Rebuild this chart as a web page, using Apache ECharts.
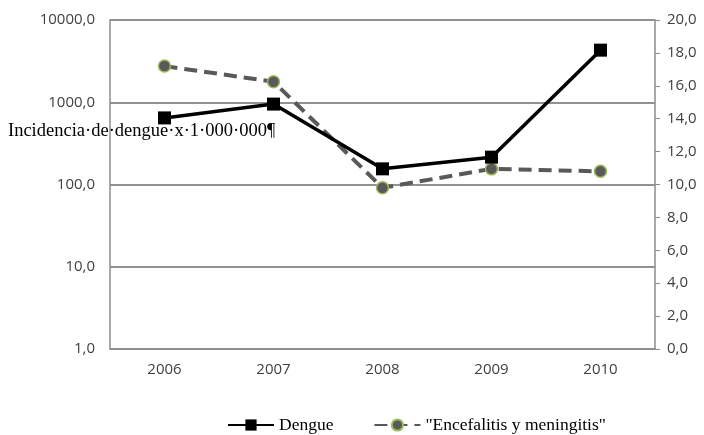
<!DOCTYPE html>
<html>
<head>
<meta charset="utf-8">
<script src="https://cdn.jsdelivr.net/npm/echarts@6/dist/echarts.min.js"></script>
<style>html,body{margin:0;padding:0;background:#fff}#c{width:704px;height:435px}</style>
</head>
<body>
<div id="c"></div>
<script>
var years = ['2006', '2007', '2008', '2009', '2010'];
var dengue = [645, 950, 155, 215, 4300];
var encefalitis = [17.2, 16.25, 9.8, 10.95, 10.8];
var overlayText = 'Incidencia·de·dengue·x·1·000·000¶';

var fmt = function (v) { return Number(v).toFixed(1).replace('.', ','); };
var chart = echarts.init(document.getElementById('c'));
chart.setOption({
  animation: false,
  backgroundColor: '#ffffff',
  grid: { left: 110, right: 49, top: 20, bottom: 86 },
  xAxis: {
    type: 'category',
    data: years,
    boundaryGap: true,
    axisLine: { lineStyle: { color: '#8c8c8c', width: 1.5 } },
    axisTick: { show: false },
    axisLabel: { color: '#404040', fontSize: 15, fontFamily: 'Open Sans', margin: 13 }
  },
  yAxis: [{
    type: 'log',
    logBase: 10,
    min: 1,
    max: 10000,
    axisLine: { show: true, lineStyle: { color: '#8c8c8c', width: 1.5 } },
    axisTick: { show: false },
    splitLine: { show: true, lineStyle: { color: '#6e6e6e', width: 1.5 } },
    minorTick: { show: false },
    axisLabel: { color: '#404040', fontSize: 15, fontFamily: 'Open Sans', margin: 15, formatter: fmt }
  }, {
    type: 'value',
    min: 0,
    max: 20,
    interval: 2,
    position: 'right',
    axisLine: { show: true, lineStyle: { color: '#8c8c8c', width: 1.5 } },
    axisTick: { show: true, length: 5, lineStyle: { color: '#8c8c8c' } },
    splitLine: { show: false },
    axisLabel: { color: '#404040', fontSize: 15, fontFamily: 'Open Sans', margin: 12, formatter: fmt }
  }],
  legend: {
    left: 222,
    top: 411,
    itemWidth: 46,
    itemHeight: 14,
    itemGap: 40,
    textStyle: { fontFamily: 'Liberation Serif', fontSize: 17.5, color: '#000' },
    data: ['Dengue', '"Encefalitis y meningitis"']
  },
  graphic: [{
    type: 'text',
    left: 8,
    top: 122,
    z: 100,
    style: { text: overlayText, font: '18.5px "Liberation Serif"', fill: '#000' }
  }],
  series: [{
    name: 'Dengue',
    type: 'line',
    yAxisIndex: 0,
    data: dengue,
    symbol: 'rect',
    symbolSize: 13,
    lineStyle: { color: '#000', width: 3.5 },
    itemStyle: { color: '#000' },
    z: 3
  }, {
    name: '"Encefalitis y meningitis"',
    type: 'line',
    yAxisIndex: 1,
    data: encefalitis,
    symbol: 'circle',
    symbolSize: 12,
    lineStyle: { color: '#595959', width: 4, type: [13, 7] },
    itemStyle: { color: '#595959', borderColor: '#9bbb59', borderWidth: 1.5 },
    z: 2
  }]
});
</script>
</body>
</html>
